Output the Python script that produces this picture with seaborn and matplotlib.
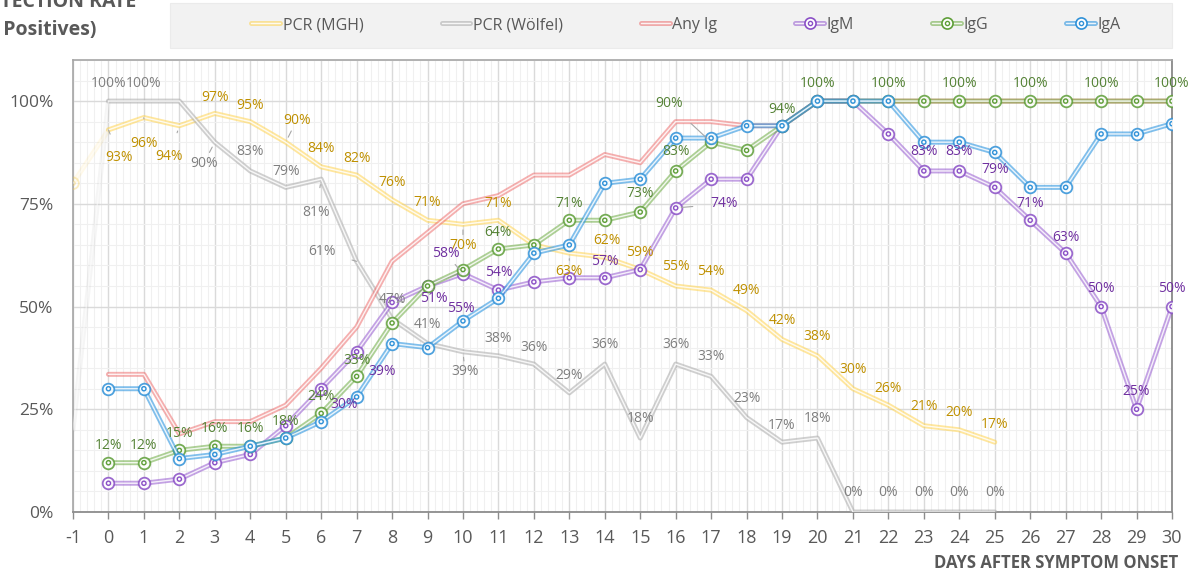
import numpy as np
import pandas as pd
import matplotlib
matplotlib.use("Agg")
import matplotlib.pyplot as plt
import seaborn as sns
from matplotlib.patches import Rectangle
from matplotlib.lines import Line2D

# ---------------- data ----------------
days_pcr = list(range(-1, 26))
pcr_mgh = [80, 93, 96, 94, 97, 95, 90, 84, 82, 76, 71, 70, 71, 65, 63, 62, 59, 55,
           54, 49, 42, 38, 30, 26, 21, 20, 17]
pcr_wolfel = [20, 100, 100, 100, 90, 83, 79, 81, 61, 47, 41, 39, 38, 36, 29, 36, 18,
              36, 33, 23, 17, 18, 0, 0, 0, 0, 0]

days_ab = list(range(0, 31))
any_ig = [33.5, 33.5, 19, 22, 22, 26, 35, 45, 61, 68, 75, 77, 82, 82, 87, 85, 95, 95,
          94, 94, 100, 100, 100, 100, 100, 100, 100, 100, 100, 100, 100]
igm = [7, 7, 8, 12, 14, 21, 30, 39, 51, 55, 58, 54, 56, 57, 57, 59, 74, 81, 81, 94,
       100, 100, 92, 83, 83, 79, 71, 63, 50, 25, 50]
igg = [12, 12, 15, 16, 16, 18, 24, 33, 46, 55, 59, 64, 65, 71, 71, 73, 83, 90, 88, 94,
       100, 100, 100, 100, 100, 100, 100, 100, 100, 100, 100]
iga = [30, 30, 13, 14, 16, 18, 22, 28, 41, 40, 46.5, 52, 63, 65, 80, 81, 91, 91, 94, 94,
       100, 100, 100, 90, 90, 87.5, 79, 79, 92, 92, 94.5]

series_names = ["PCR (MGH)", "PCR (Wölfel)", "Any Ig", "IgM", "IgG", "IgA"]
y_ticks = [0, 25, 50, 75, 100]
y_tick_labels = ["0%", "25%", "50%", "75%", "100%"]
x_ticks = list(range(-1, 31))

frames = []
for name, d, v in [("PCR (MGH)", days_pcr, pcr_mgh), ("PCR (Wölfel)", days_pcr, pcr_wolfel),
                   ("Any Ig", days_ab, any_ig), ("IgM", days_ab, igm),
                   ("IgG", days_ab, igg), ("IgA", days_ab, iga)]:
    frames.append(pd.DataFrame({"series": name, "day": d, "rate": v}))
df = pd.concat(frames, ignore_index=True)

# ---------------- style ----------------
styles = {
    "PCR (MGH)":    dict(line="#FFD34D", alpha=0.55, mark="#F2C94C", text="#BF9000", markers=False),
    "PCR (Wölfel)": dict(line="#B0B0B0", alpha=0.6, mark="#A0A0A0", text="#7F7F7F", markers=False),
    "Any Ig":       dict(line="#EE6E6E", alpha=0.55, mark="#E06666", text="#C00000", markers=False),
    "IgM":          dict(line="#9457CF", alpha=0.55, mark="#8A4FC6", text="#7030A0", markers=True),
    "IgG":          dict(line="#6AAA3F", alpha=0.55, mark="#5E9E38", text="#548235", markers=True),
    "IgA":          dict(line="#2C95E0", alpha=0.6, mark="#2F91D8", text="#2E75B6", markers=True),
}

# label offsets in pixels: day -> (dx, dy, leader)
label_specs = {
    "PCR (MGH)": {0: (11, -28, True), 1: (0, -26, True), 2: (-10, -31, True), 3: (0, 16, False),
                  4: (0, 16, False), 5: (11, 22, True), 6: (0, 18, False), 7: (0, 17, False),
                  8: (0, 17, False), 9: (0, 18, False), 10: (0, -21, True), 11: (0, 17, False),
                  13: (0, -18, True), 14: (2, 17, True), 15: (0, 17, False), 16: (0, 19, False),
                  17: (0, 19, False), 18: (0, 20, False), 19: (0, 19, False), 20: (0, 19, False),
                  21: (0, 19, False), 22: (0, 17, False), 23: (0, 19, False), 24: (0, 17, False),
                  25: (0, 18, False)},
    "PCR (Wölfel)": {0: (0, 18, False), 1: (0, 18, False), 3: (-11, -21, True), 4: (0, 19, False),
                     5: (0, 16, False), 6: (-5, -33, True), 7: (-35, 10, True), 8: (0, 19, False),
                     9: (0, 19, False), 10: (2, -20, True), 11: (0, 17, False), 12: (0, 17, False),
                     13: (0, 17, False), 14: (0, 20, False), 15: (0, 20, False), 16: (0, 20, False),
                     17: (0, 20, False), 18: (0, 19, False), 19: (0, 17, False), 20: (0, 20, False),
                     21: (0, 19, False), 22: (0, 19, False), 23: (0, 19, False), 24: (0, 19, False),
                     25: (0, 19, False)},
    "Any Ig": {},
    "IgM": {6: (23, -16, False), 7: (26, -20, False), 8: (42, 4, True), 9: (33, -22, True),
            10: (-17, 20, True), 11: (0, 18, False), 14: (0, 16, False), 16: (48, 4, True),
            23: (0, 19, False), 24: (0, 19, False), 25: (0, 18, False), 26: (0, 17, False),
            27: (0, 16, False), 28: (0, 18, False), 29: (0, 18, False), 30: (0, 18, False)},
    "IgG": {0: (0, 17, False), 1: (0, 17, False), 2: (0, 17, False), 3: (0, 18, False),
            4: (0, 18, False), 5: (0, 17, False), 6: (0, 17, False), 7: (0, 16, False),
            11: (0, 17, False), 13: (0, 17, False), 15: (0, 19, False), 16: (0, 19, False),
            17: (-42, 39, True), 19: (0, 16, False), 20: (0, 18, False), 22: (0, 18, False),
            24: (0, 18, False), 26: (0, 18, False), 28: (0, 18, False), 30: (0, 18, False)},
    "IgA": {},
}

sns.set_theme(style="white")
plt.rcParams["font.family"] = ["Open Sans", "DejaVu Sans"]
plt.rcParams["axes.unicode_minus"] = False

W, H = 1201, 579
fig = plt.figure(figsize=(W / 100, H / 100), dpi=100)
ax = fig.add_axes([73 / W, 1 - 512 / H, (1172 - 73) / W, (512 - 60) / H])

ax.set_xlim(-1, 30)
ax.set_ylim(0, 110)
ax.set_xticks(x_ticks)
ax.set_xticks(np.arange(-1, 30.01, 0.2), minor=True)
ax.set_yticks(y_ticks)
ax.set_yticks(np.arange(0, 110.01, 5), minor=True)
ax.set_yticklabels(y_tick_labels)
ax.grid(which="major", color="#DADADA", lw=1.0, zorder=0)
ax.grid(which="minor", color="#F0F0F0", lw=0.8, zorder=0)
ax.set_axisbelow(True)
ax.tick_params(axis="x", which="major", length=5, width=1, color="#8C8C8C", direction="out",
               labelsize=13, labelcolor="#595959", pad=7, bottom=True)
ax.tick_params(axis="x", which="minor", length=0)
ax.tick_params(axis="y", which="both", length=0, labelsize=12.5, labelcolor="#595959", pad=14)
for s in ["top", "right", "left"]:
    ax.spines[s].set_color("#A6A6A6")
    ax.spines[s].set_linewidth(1.2)
ax.spines["bottom"].set_color("#8C8C8C")
ax.spines["bottom"].set_linewidth(1.3)
ax.spines["right"].set_color("#7F7F7F")

z = 3
for name in series_names:
    st = styles[name]
    sub = df[df["series"] == name]
    main = sub[sub["day"] >= 0]
    pre = sub[sub["day"] <= 0]
    if len(pre) > 1:
        sns.lineplot(data=pre, x="day", y="rate", color=st["line"], lw=3.6, alpha=0.12,
                     sort=False, estimator=None, legend=False, ax=ax, zorder=z)
        sns.lineplot(data=pre, x="day", y="rate", color="white", lw=1.0, alpha=0.5,
                     sort=False, estimator=None, legend=False, ax=ax, zorder=z + 0.1)
    sns.lineplot(data=main, x="day", y="rate", color=st["line"], lw=3.6, alpha=st["alpha"],
                 sort=False, estimator=None, legend=False, ax=ax, zorder=z)
    sns.lineplot(data=main, x="day", y="rate", color="white", lw=1.0, alpha=0.85,
                 sort=False, estimator=None, legend=False, ax=ax, zorder=z + 0.1)
    if st["markers"]:
        sns.scatterplot(data=main, x="day", y="rate", marker="o", s=70, facecolor="#FFFFFF",
                        edgecolor=st["mark"], linewidth=1.3, alpha=0.85, legend=False, ax=ax,
                        zorder=z + 0.2)
        sns.scatterplot(data=main, x="day", y="rate", marker="o", s=9, facecolor="none",
                        edgecolor=st["mark"], linewidth=1.0, legend=False, ax=ax, zorder=z + 0.3)
    if name == "PCR (MGH)":
        faded = sub[sub["day"] < 0]
        sns.scatterplot(data=faded, x="day", y="rate", marker="o", s=70, facecolor="none",
                        edgecolor=st["mark"], linewidth=1.3, alpha=0.35, legend=False, ax=ax,
                        zorder=z + 0.2)
        sns.scatterplot(data=faded, x="day", y="rate", marker="o", s=9, facecolor="none",
                        edgecolor=st["mark"], linewidth=1.0, alpha=0.35, legend=False, ax=ax,
                        zorder=z + 0.3)
    z += 1

# data labels
for name in series_names:
    st = styles[name]
    sub = df[df["series"] == name].set_index("day")
    for d, (dx, dy, leader) in label_specs[name].items():
        v = sub.loc[d, "rate"]
        kw = {}
        if leader:
            kw["arrowprops"] = dict(arrowstyle="-", color="#A6A6A6", lw=0.8, shrinkA=10, shrinkB=4)
        ax.annotate(f"{v:.0f}%", xy=(d, v), xytext=(dx, dy), textcoords="offset pixels",
                    ha="center", va="center", fontsize=10, color=st["text"], zorder=20, **kw)

ax.set_xlabel("")
ax.set_ylabel("")

# x axis title
fig.text(1178 / W, 1 - 563 / H, "DAYS AFTER SYMPTOM ONSET", ha="right", va="center",
         fontsize=12, fontweight="bold", color="#595959")

# cut-off title at top left
fig.text(136 / W, 1 - 2 / H, "DETECTION RATE", ha="right", va="center", fontsize=14,
         fontweight="bold", color="#595959")
fig.text(96 / W, 1 - 30 / H, "(% Positives)", ha="right", va="center", fontsize=14,
         fontweight="bold", color="#595959")

# legend box
fig.patches.append(Rectangle((170 / W, 1 - 48 / H), (1172 - 170) / W, 45 / H,
                             transform=fig.transFigure, facecolor="#F2F2F2",
                             edgecolor="#EBEBEB", lw=0.8, zorder=0))
handles = []
for name in series_names:
    st = styles[name]
    h = [Line2D([], [], color=st["line"], lw=3.6, alpha=st["alpha"]),
         Line2D([], [], color="white", lw=1.0, alpha=0.85)]
    if st["markers"]:
        h.append(Line2D([], [], ls="none", marker="o", ms=8, mfc="white", mec=st["mark"], mew=1.2))
        h.append(Line2D([], [], ls="none", marker="o", ms=3, mfc="none", mec=st["mark"], mew=1.0))
    handles.append(tuple(h))
leg = fig.legend(handles, series_names, loc="center", bbox_to_anchor=(686 / W, 1 - 25 / H),
                 ncol=6, frameon=False, fontsize=11.5, handlelength=1.8, handletextpad=0.15,
                 columnspacing=4.9, labelcolor="#595959")

fig.savefig("out.png", dpi=100)
